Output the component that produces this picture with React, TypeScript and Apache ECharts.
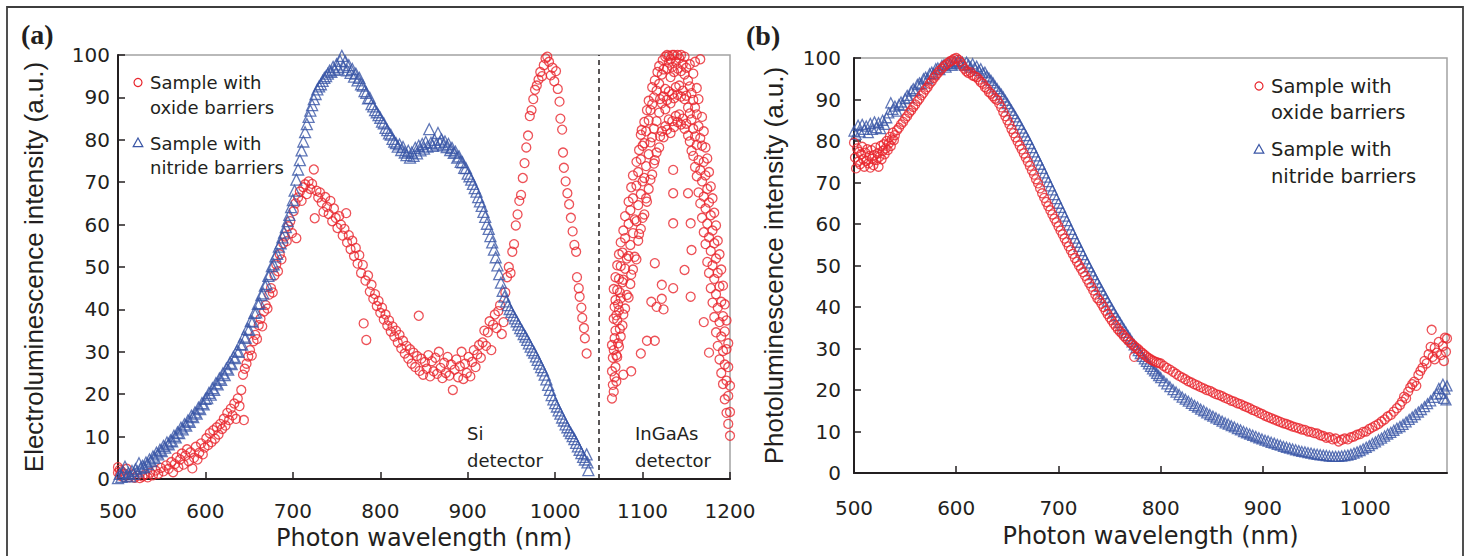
import React, { useEffect, useRef } from "react";
import * as echarts from "echarts";

// ---------- data ----------
const seriesNames = ["Sample with oxide barriers", "Sample with nitride barriers"];
const detectorSplit = 1050; // nm, Si / InGaAs detector boundary
const elRange = [500, 1200];
const plRange = [500, 1080];

// (a) electroluminescence, oxide barriers, Si detector
const elOxideSi: [number, number][] = [
  [500, 1.5], [500, 2.8], [502, 0.8], [502, 2.2], [504, 1.8], [506, 0.5], [508, 1.2], [510, 2.4], [513, 0.4], [516, 1.0],
  [519, 0.3], [522, 0.8], [525, 0.2], [528, 0.6], [531, 1.1], [534, 0.4], [537, 1.5], [540, 0.9], [543, 2.0], [546, 1.2],
  [549, 2.6], [552, 1.8], [555, 3.2], [558, 2.4], [561, 4.0], [563, 1.6], [565, 3.5], [567, 5.1], [569, 2.8], [571, 4.6],
  [573, 6.0], [575, 3.4], [577, 5.5], [579, 7.0], [581, 4.2], [583, 6.3], [585, 2.5], [587, 5.0], [589, 7.6], [591, 4.6],
  [593, 6.2], [595, 8.4], [597, 5.8], [599, 7.4], [601, 9.6], [603, 8.0], [605, 10.8], [607, 8.7], [609, 11.5], [611, 9.5],
  [613, 12.2], [615, 10.5], [617, 13.0], [619, 11.8], [621, 14.2], [623, 12.6], [625, 15.6], [627, 13.9], [629, 16.6], [631, 15.0],
  [633, 17.8], [635, 14.2], [637, 19.0], [639, 17.2], [641, 21.0], [643, 24.6], [644, 13.9], [645, 26.0], [647, 27.2], [649, 28.9],
  [651, 30.4], [653, 29.1], [655, 32.5], [657, 34.0], [659, 33.0], [661, 36.3], [663, 37.8], [665, 36.0], [667, 39.5], [669, 41.0],
  [671, 40.2], [673, 43.5], [675, 45.0], [677, 44.0], [679, 48.0], [681, 50.6], [683, 49.0], [685, 53.0], [687, 51.8], [689, 55.6],
  [691, 57.2], [693, 56.1], [695, 59.6], [697, 60.8], [699, 58.0], [701, 63.2], [703, 65.0], [704, 56.8], [706, 66.4], [708, 67.8],
  [710, 65.6], [712, 68.8], [714, 69.5], [716, 67.2], [718, 70.2], [720, 68.4], [722, 69.6], [724, 73.0], [725, 61.5], [727, 68.0],
  [729, 66.4], [731, 67.6], [733, 65.2], [735, 63.0], [737, 66.5], [739, 64.2], [741, 62.5], [743, 65.6], [745, 60.8], [747, 63.8],
  [749, 61.6], [751, 59.2], [753, 62.0], [755, 60.0], [757, 57.4], [759, 59.0], [761, 62.7], [762, 55.8], [764, 57.5], [766, 54.2],
  [768, 56.2], [770, 52.6], [772, 54.5], [774, 50.8], [776, 52.8], [778, 48.6], [780, 50.5], [781, 36.7], [783, 46.8], [784, 32.8],
  [786, 48.0], [788, 44.2], [790, 45.8], [792, 42.5], [794, 43.6], [796, 40.8], [798, 42.0], [800, 39.2], [802, 40.4], [804, 37.6],
  [806, 38.8], [808, 36.2], [810, 37.4], [812, 34.8], [814, 36.0], [816, 33.6], [818, 35.0], [820, 32.2], [822, 34.0], [824, 30.8],
  [826, 32.6], [828, 29.6], [830, 31.4], [832, 28.4], [834, 30.6], [836, 27.2], [838, 29.8], [840, 26.4], [842, 29.0], [844, 38.5],
  [845, 25.5], [847, 28.4], [849, 24.6], [851, 27.6], [853, 26.0], [855, 29.2], [857, 24.2], [859, 27.8], [861, 25.4], [863, 28.6],
  [865, 24.8], [867, 30.0], [869, 26.2], [871, 23.8], [873, 27.4], [875, 25.0], [877, 28.8], [879, 24.4], [881, 27.0], [883, 21.0],
  [885, 25.8], [887, 28.2], [889, 24.0], [891, 26.6], [893, 30.0], [895, 23.6], [897, 27.2], [899, 25.0], [901, 28.8], [903, 24.2],
  [905, 27.6], [907, 30.4], [909, 26.4], [911, 29.4], [913, 31.6], [915, 28.6], [917, 32.2], [919, 35.0], [921, 31.4], [923, 34.6],
  [925, 37.2], [927, 30.4], [929, 36.4], [931, 38.8], [933, 35.6], [935, 39.6], [937, 41.0], [939, 34.2], [941, 37.0], [943, 44.0],
  [945, 47.6], [947, 50.0], [949, 48.6], [951, 53.6], [953, 55.4], [955, 59.8], [957, 62.4], [959, 65.6], [961, 67.0], [963, 71.0],
  [965, 74.5], [967, 78.2], [969, 81.0], [971, 85.6], [973, 87.0], [975, 89.6], [977, 91.8], [979, 92.8], [981, 94.2], [983, 96.0],
  [985, 95.0], [987, 97.6], [989, 99.2], [991, 99.6], [993, 98.4], [995, 95.2], [997, 97.0], [999, 93.8], [1001, 96.2], [1003, 92.0],
  [1005, 89.0], [1006, 85.0], [1008, 82.4], [1009, 77.0], [1010, 73.4], [1012, 70.2], [1014, 67.4], [1016, 64.8], [1018, 61.6], [1020, 58.4],
  [1022, 55.2], [1024, 53.6], [1025, 47.6], [1027, 45.0], [1028, 43.0], [1030, 40.4], [1031, 38.0], [1033, 35.6], [1034, 33.2], [1036, 29.6],
];

// (a) electroluminescence, oxide barriers, InGaAs detector
const elOxideInGaAs: [number, number][] = [
  [1065, 19.0], [1065, 25.4], [1065, 31.6], [1066, 22.2], [1066, 28.6], [1067, 20.6], [1067, 30.4], [1067, 37.8], [1067, 44.8],
  [1068, 24.0], [1068, 33.2], [1068, 40.6], [1069, 26.4], [1069, 35.0], [1069, 42.2], [1069, 47.6], [1070, 23.0], [1070, 29.2], [1070, 38.6],
  [1071, 28.8], [1071, 37.4], [1071, 44.6], [1071, 50.4], [1072, 32.0], [1072, 41.2], [1073, 31.2], [1073, 39.8], [1073, 47.2], [1073, 53.0],
  [1074, 35.4], [1074, 44.0], [1075, 33.6], [1075, 42.6], [1075, 50.2], [1075, 55.8], [1077, 36.2], [1077, 46.4], [1077, 53.4],
  [1078, 24.6], [1078, 38.8], [1078, 47.0], [1078, 58.6], [1080, 40.2], [1080, 49.6], [1080, 56.8], [1080, 62.0], [1082, 43.4], [1082, 52.0],
  [1084, 42.8], [1084, 52.6], [1084, 60.2], [1084, 65.4], [1086, 46.0], [1086, 55.2], [1086, 63.4], [1087, 25.4], [1087, 48.2], [1087, 68.8],
  [1089, 49.4], [1089, 58.0], [1089, 66.2], [1089, 71.6], [1091, 52.4], [1091, 61.2], [1093, 51.8], [1093, 60.8], [1093, 69.2], [1093, 74.8],
  [1095, 56.2], [1095, 64.6], [1095, 72.4], [1096, 57.8], [1096, 77.6], [1098, 29.6], [1098, 59.0], [1098, 67.2], [1098, 75.4], [1098, 81.2],
  [1099, 82.3], [1100, 61.6], [1100, 70.2], [1100, 78.6], [1102, 62.4], [1102, 71.0], [1102, 79.2], [1102, 84.2], [1104, 66.2], [1104, 73.8],
  [1104, 82.0], [1105, 32.6], [1105, 65.4], [1105, 87.0], [1107, 68.4], [1107, 76.6], [1107, 84.6], [1107, 89.2], [1109, 70.6], [1109, 79.4],
  [1109, 87.0], [1110, 41.8], [1111, 71.8], [1111, 80.6], [1111, 88.4], [1111, 92.4], [1113, 74.4], [1113, 82.6], [1113, 90.0],
  [1114, 32.6], [1114, 50.9], [1114, 75.2], [1114, 94.0], [1116, 40.6], [1116, 77.0], [1116, 84.4], [1116, 91.6], [1117, 96.0],
  [1119, 78.2], [1119, 86.4], [1119, 93.2], [1119, 97.4], [1120, 80.8], [1120, 89.6], [1122, 45.8], [1122, 42.5], [1122, 82.0], [1122, 88.6],
  [1122, 95.4], [1123, 98.8], [1124, 40.0], [1124, 80.6], [1124, 90.2], [1124, 96.6], [1126, 83.2], [1126, 92.0], [1126, 99.6], [1126, 87.2],
  [1128, 82.4], [1128, 89.4], [1128, 96.8], [1128, 100], [1130, 84.8], [1130, 91.4], [1130, 98.2], [1130, 99.8], [1132, 81.6], [1132, 88.6],
  [1132, 94.8], [1132, 99.0], [1134, 84.4], [1134, 90.8], [1134, 97.2], [1134, 100], [1135, 72.9], [1135, 67.4], [1135, 60.3], [1135, 45.0],
  [1136, 83.0], [1136, 89.8], [1136, 96.0], [1136, 100], [1138, 85.6], [1138, 92.4], [1138, 98.4], [1140, 84.2], [1140, 90.6], [1140, 96.8],
  [1140, 100], [1142, 86.0], [1142, 92.8], [1142, 99.2], [1144, 83.6], [1144, 90.2], [1144, 96.2], [1144, 100], [1146, 85.0], [1146, 91.6],
  [1146, 97.8], [1148, 82.6], [1148, 49.3], [1148, 89.6], [1148, 95.4], [1148, 99.6], [1150, 83.8], [1150, 90.4], [1150, 97.0],
  [1152, 81.0], [1152, 67.4], [1152, 87.6], [1152, 94.0], [1154, 79.6], [1154, 86.2], [1154, 92.6], [1154, 97.8], [1155, 60.3], [1155, 43.0],
  [1156, 54.0], [1156, 77.4], [1156, 84.8], [1156, 91.0], [1158, 76.2], [1158, 82.6], [1158, 89.4], [1158, 95.6], [1160, 73.6], [1160, 80.8],
  [1160, 87.6], [1160, 98.4], [1162, 71.4], [1162, 78.8], [1162, 86.0], [1162, 92.2], [1164, 67.6], [1164, 75.2], [1164, 83.2], [1164, 89.6],
  [1166, 65.0], [1166, 72.8], [1166, 80.4], [1166, 99.0], [1168, 61.6], [1168, 70.2], [1168, 78.6], [1168, 85.4], [1170, 37.0], [1170, 58.2],
  [1170, 66.6], [1170, 74.8], [1170, 82.0], [1172, 55.4], [1172, 63.8], [1172, 71.6], [1172, 78.2], [1174, 51.2], [1174, 60.2], [1174, 68.4],
  [1174, 75.6], [1176, 29.8], [1176, 48.6], [1176, 57.0], [1176, 65.2], [1176, 72.4], [1178, 45.0], [1178, 53.8], [1178, 62.2], [1178, 69.0],
  [1180, 41.6], [1180, 50.4], [1180, 58.6], [1180, 66.2], [1182, 38.2], [1182, 47.2], [1182, 55.6], [1182, 62.8], [1184, 34.6], [1184, 43.6],
  [1184, 52.0], [1184, 59.8], [1186, 31.4], [1186, 40.4], [1186, 48.6], [1186, 56.2], [1188, 28.2], [1188, 37.0], [1188, 45.4], [1188, 53.0],
  [1190, 25.0], [1190, 33.6], [1190, 41.8], [1190, 49.4], [1192, 22.4], [1192, 30.2], [1192, 38.4], [1192, 45.6], [1194, 18.8], [1194, 27.0],
  [1194, 34.8], [1194, 41.2], [1196, 15.6], [1196, 23.2], [1196, 30.6], [1196, 37.4], [1198, 13.0], [1198, 19.6], [1198, 26.4], [1198, 32.0],
  [1200, 10.2], [1200, 15.8], [1200, 22.0],
];

// (a) electroluminescence, nitride barriers (Si detector)
const elNitride: [number, number][] = [
  [500, 0.2], [502, 1.2], [504, 0.5], [506, 1.6], [508, 2.9], [510, 0.8], [512, 1.4], [514, 0.6], [516, 1.9], [518, 1.2],
  [520, 2.3], [522, 1.8], [524, 3.7], [526, 2.6], [528, 3.1], [530, 2.8], [532, 3.9], [534, 3.5], [536, 4.6], [538, 4.2],
  [540, 5.3], [542, 5.0], [544, 6.2], [546, 5.8], [548, 6.9], [550, 6.6], [552, 7.8], [554, 7.4], [556, 8.6], [558, 8.2],
  [560, 9.1], [562, 8.9], [564, 10.2], [566, 9.8], [568, 11.0], [570, 10.8], [572, 12.1], [574, 11.7], [576, 12.9], [578, 12.6],
  [580, 13.8], [582, 13.5], [584, 14.9], [586, 14.6], [588, 15.7], [590, 15.4], [592, 16.8], [594, 16.5], [596, 17.9], [598, 17.6],
  [600, 18.9], [602, 19.1], [604, 20.3], [606, 19.9], [608, 21.4], [610, 21.0], [612, 22.6], [614, 22.3], [616, 23.7], [618, 23.4],
  [620, 24.9], [622, 24.5], [624, 26.1], [626, 25.8], [628, 27.4], [630, 27.1], [632, 28.8], [634, 28.5], [636, 30.2], [638, 30.0],
  [640, 31.8], [642, 31.7], [644, 33.6], [646, 33.3], [648, 35.4], [650, 35.2], [652, 37.3], [654, 37.1], [656, 39.2], [658, 39.3],
  [660, 41.3], [662, 41.5], [664, 43.4], [666, 43.8], [668, 45.6], [670, 46.0], [672, 47.9], [674, 48.3], [676, 50.2], [678, 50.6],
  [680, 52.5], [682, 53.1], [684, 54.8], [686, 55.6], [688, 57.0], [690, 58.1], [692, 59.4], [694, 60.8], [696, 62.3], [698, 64.1],
  [700, 65.8], [702, 68.0], [704, 70.6], [706, 73.0], [708, 75.2], [710, 77.5], [712, 79.6], [714, 81.8], [716, 83.7], [718, 85.4],
  [720, 86.9], [722, 88.2], [724, 89.6], [726, 90.8], [728, 91.9], [730, 92.6], [732, 93.1], [734, 93.9], [736, 94.6], [738, 95.0],
  [740, 95.6], [742, 96.3], [744, 96.0], [746, 97.2], [748, 96.5], [750, 97.8], [752, 96.8], [754, 98.6], [756, 99.8], [758, 97.2],
  [760, 98.5], [762, 96.4], [764, 97.6], [766, 95.8], [768, 96.7], [770, 94.9], [772, 95.6], [774, 94.0], [776, 94.6], [778, 93.1],
  [780, 92.8], [782, 91.5], [784, 91.1], [786, 89.8], [788, 89.9], [790, 88.4], [792, 87.9], [794, 87.0], [796, 86.5], [798, 85.8],
  [800, 85.2], [802, 84.3], [804, 83.9], [806, 82.8], [808, 82.3], [810, 81.5], [812, 81.2], [814, 80.2], [816, 79.6], [818, 79.2],
  [820, 78.4], [822, 78.9], [824, 77.6], [826, 78.3], [828, 77.0], [830, 76.4], [832, 77.4], [834, 75.8], [836, 77.0], [838, 76.2],
  [840, 78.1], [842, 76.8], [844, 78.6], [846, 77.5], [848, 79.0], [850, 77.9], [852, 79.5], [854, 78.4], [856, 82.5], [858, 79.3],
  [860, 78.6], [862, 80.0], [864, 78.9], [866, 81.6], [868, 79.4], [870, 80.1], [872, 78.7], [874, 79.6], [876, 78.3], [878, 79.0],
  [880, 77.6], [882, 78.1], [884, 76.9], [886, 77.2], [888, 75.8], [890, 76.1], [892, 74.8], [894, 74.7], [896, 73.4], [898, 73.3],
  [900, 72.0], [902, 71.4], [904, 70.6], [906, 69.6], [908, 68.6], [910, 67.8], [912, 66.5], [914, 65.5], [916, 64.4], [918, 63.0],
  [920, 61.8], [922, 60.2], [924, 59.0], [926, 57.3], [928, 55.8], [930, 54.1], [932, 52.3], [934, 50.4], [936, 48.3], [938, 46.3],
  [940, 44.4], [942, 43.0], [944, 41.9], [946, 41.0], [948, 40.1], [950, 39.4], [952, 38.6], [954, 37.9], [956, 37.2], [958, 36.4],
  [960, 35.6], [962, 35.0], [964, 34.2], [966, 33.6], [968, 32.8], [970, 32.0], [972, 31.2], [974, 30.4], [976, 29.8], [978, 28.9],
  [980, 28.1], [982, 27.2], [984, 26.4], [986, 25.6], [988, 24.6], [990, 23.5], [992, 22.2], [994, 21.0], [996, 19.8], [998, 18.8],
  [1000, 17.9], [1002, 17.1], [1004, 16.2], [1006, 15.4], [1008, 14.5], [1010, 13.8], [1012, 12.9], [1014, 12.2], [1016, 11.4], [1018, 10.8],
  [1020, 10.1], [1022, 9.4], [1024, 8.5], [1026, 7.7], [1028, 6.9], [1030, 6.1], [1032, 5.2], [1034, 4.6], [1036, 5.8], [1037, 3.9],
  [1038, 2.1],
];

// (b) photoluminescence, oxide barriers
const plOxide: [number, number][] = [
  [500, 79.6], [501, 76.0], [502, 73.4], [503, 78.2], [504, 75.0], [505, 77.4], [506, 74.4], [507, 76.8], [508, 78.6], [509, 75.6],
  [510, 73.8], [511, 77.2], [512, 75.2], [513, 78.0], [514, 74.6], [515, 76.4], [516, 73.6], [517, 77.8], [518, 75.8], [519, 74.2],
  [520, 76.6], [521, 78.4], [522, 75.4], [523, 77.0], [524, 73.8], [525, 76.2], [526, 78.8], [527, 75.6], [528, 77.6], [529, 79.2],
  [530, 76.8], [531, 78.2], [532, 80.0], [533, 77.8], [534, 79.4], [535, 81.0], [536, 78.8], [537, 80.4], [538, 82.0], [539, 80.2],
  [540, 81.4], [542, 82.6], [544, 83.2], [546, 84.0], [548, 84.6], [550, 85.4], [552, 86.0], [554, 86.8], [556, 87.4], [558, 88.2],
  [560, 88.8], [562, 89.6], [564, 90.2], [566, 91.0], [568, 91.6], [570, 92.4], [572, 93.0], [574, 93.8], [576, 94.4], [578, 95.2],
  [580, 95.8], [582, 96.4], [584, 97.0], [586, 97.4], [588, 98.0], [590, 98.4], [592, 98.8], [594, 99.2], [596, 99.4], [598, 99.8],
  [600, 100], [602, 99.6], [604, 99.0], [606, 98.2], [608, 97.4], [610, 96.8], [612, 96.4], [614, 96.6], [616, 95.8], [618, 95.6],
  [620, 95.4], [622, 94.8], [624, 94.2], [626, 93.8], [628, 93.0], [630, 92.6], [632, 91.8], [634, 91.4], [636, 90.8], [638, 90.2],
  [640, 89.9], [642, 89.0], [644, 88.1], [646, 87.0], [648, 86.0], [650, 85.0], [652, 84.0], [654, 82.9], [656, 81.9], [658, 80.9],
  [660, 79.9], [662, 78.9], [664, 78.0], [666, 77.0], [668, 76.0], [670, 75.0], [672, 74.0], [674, 72.9], [676, 71.9], [678, 70.8],
  [680, 69.8], [682, 68.6], [684, 67.4], [686, 66.3], [688, 65.3], [690, 64.3], [692, 63.3], [694, 62.3], [696, 61.3], [698, 60.4],
  [700, 59.4], [702, 58.4], [704, 57.5], [706, 56.5], [708, 55.6], [710, 54.6], [712, 53.7], [714, 52.8], [716, 51.8], [718, 50.9],
  [720, 50.0], [722, 49.2], [724, 48.4], [726, 47.5], [728, 46.6], [730, 45.8], [732, 44.9], [734, 44.0], [736, 43.0], [738, 42.1],
  [740, 41.6], [742, 40.8], [744, 40.0], [746, 39.1], [748, 38.3], [750, 37.5], [752, 36.8], [754, 36.0], [756, 35.4], [758, 34.7],
  [760, 34.1], [762, 33.6], [764, 33.0], [766, 32.5], [768, 32.0], [770, 31.5], [772, 31.1], [774, 28.0], [774, 30.6], [776, 30.2],
  [778, 29.8], [780, 29.3], [782, 28.9], [784, 28.5], [786, 28.1], [788, 27.7], [790, 27.4], [792, 27.1], [794, 26.9], [796, 26.7],
  [798, 26.5], [800, 26.4], [803, 25.8], [806, 25.3], [809, 24.9], [812, 24.4], [815, 23.9], [818, 23.4], [821, 23.0], [824, 22.6],
  [827, 22.1], [830, 21.8], [833, 21.4], [836, 21.1], [839, 20.7], [842, 20.4], [845, 20.0], [848, 19.8], [851, 19.4], [854, 19.0],
  [857, 18.8], [860, 18.5], [863, 18.1], [866, 17.8], [869, 17.4], [872, 17.2], [875, 16.8], [878, 16.6], [881, 16.2], [884, 15.9],
  [887, 15.6], [890, 15.2], [893, 14.9], [896, 14.5], [899, 14.2], [902, 13.8], [905, 13.5], [908, 13.2], [911, 12.9], [914, 12.6],
  [917, 12.3], [920, 12.0], [923, 11.8], [926, 11.5], [929, 11.2], [932, 11.0], [935, 10.8], [938, 10.5], [941, 10.4], [944, 10.0],
  [947, 9.9], [950, 9.6], [953, 9.5], [956, 9.1], [959, 8.9], [962, 8.5], [965, 8.6], [968, 8.1], [971, 8.3], [974, 7.6],
  [977, 8.0], [980, 8.3], [983, 8.1], [986, 8.6], [989, 8.8], [992, 9.2], [995, 9.4], [998, 9.9], [1001, 10.0], [1004, 10.6],
  [1007, 11.0], [1010, 11.4], [1013, 11.8], [1016, 12.4], [1019, 12.9], [1022, 13.6], [1025, 14.0], [1028, 14.8], [1031, 15.6], [1034, 16.4],
  [1036, 17.2], [1038, 18.4], [1040, 18.0], [1042, 19.6], [1044, 20.6], [1046, 21.4], [1048, 22.0], [1050, 21.0], [1052, 23.6], [1054, 24.6],
  [1056, 25.4], [1058, 27.0], [1060, 26.4], [1062, 28.6], [1064, 30.4], [1065, 34.5], [1066, 28.0], [1068, 27.4], [1068, 30.2], [1070, 29.0],
  [1072, 31.6], [1074, 28.4], [1076, 30.6], [1077, 27.0], [1078, 32.6], [1079, 29.2], [1080, 32.4], [1081, 24.8],
];

// (b) photoluminescence, nitride barriers
const plNitride: [number, number][] = [
  [500, 82.4], [502, 81.6], [504, 83.8], [506, 82.2], [508, 84.0], [510, 82.8], [512, 83.6], [514, 82.0], [516, 84.2], [518, 82.8],
  [520, 84.6], [522, 83.2], [524, 84.4], [526, 83.0], [528, 85.0], [530, 84.0], [532, 85.6], [534, 86.8], [536, 89.2], [538, 87.6],
  [540, 88.4], [542, 87.2], [544, 88.8], [546, 89.4], [548, 88.6], [550, 90.2], [552, 91.0], [554, 90.4], [556, 92.0], [558, 92.6],
  [560, 92.2], [562, 93.6], [564, 94.0], [566, 93.8], [568, 95.0], [570, 95.4], [572, 95.0], [574, 96.2], [576, 96.6], [578, 96.2],
  [580, 97.4], [582, 97.6], [584, 97.2], [586, 98.2], [588, 98.4], [590, 97.8], [592, 98.8], [594, 98.6], [596, 98.2], [598, 99.2],
  [600, 98.8], [602, 99.4], [604, 98.6], [606, 99.0], [608, 98.2], [610, 99.0], [612, 98.4], [614, 97.8], [616, 98.6], [618, 97.6],
  [620, 98.0], [622, 97.0], [624, 97.4], [626, 96.4], [628, 96.6], [630, 95.6], [632, 95.2], [634, 94.6], [636, 94.0], [638, 93.2],
  [640, 92.6], [642, 91.9], [644, 91.3], [646, 90.6], [648, 89.8], [650, 89.0], [652, 88.2], [654, 87.4], [656, 86.6], [658, 85.8],
  [660, 84.9], [662, 84.0], [664, 83.1], [666, 82.2], [668, 81.3], [670, 80.4], [672, 79.4], [674, 78.4], [676, 77.4], [678, 76.4],
  [680, 75.4], [682, 74.4], [684, 73.4], [686, 72.3], [688, 71.3], [690, 70.2], [692, 69.2], [694, 68.2], [696, 67.1], [698, 66.1],
  [700, 65.0], [702, 64.0], [704, 62.9], [706, 61.9], [708, 60.8], [710, 59.8], [712, 58.7], [714, 57.7], [716, 56.6], [718, 55.6],
  [720, 54.6], [722, 53.6], [724, 52.6], [726, 51.6], [728, 50.6], [730, 49.7], [732, 48.7], [734, 47.8], [736, 46.8], [738, 45.9],
  [740, 45.0], [742, 44.1], [744, 43.2], [746, 42.3], [748, 41.4], [750, 40.5], [752, 39.6], [754, 38.8], [756, 37.9], [758, 37.1],
  [760, 36.3], [762, 35.5], [764, 34.7], [766, 33.9], [768, 33.1], [770, 32.4], [772, 31.6], [774, 30.9], [776, 30.2], [778, 29.5],
  [780, 28.8], [782, 28.1], [784, 27.5], [786, 26.9], [788, 26.3], [790, 25.7], [792, 25.1], [794, 24.6], [796, 24.0], [798, 23.5],
  [800, 23.0], [803, 22.2], [806, 21.5], [809, 20.8], [812, 20.1], [815, 19.5], [818, 18.9], [821, 18.3], [824, 17.8], [827, 17.3],
  [830, 16.8], [833, 16.3], [836, 15.9], [839, 15.4], [842, 15.0], [845, 14.5], [848, 14.1], [851, 13.7], [854, 13.3], [857, 12.9],
  [860, 12.5], [863, 12.1], [866, 11.8], [869, 11.4], [872, 11.1], [875, 10.7], [878, 10.4], [881, 10.0], [884, 9.7], [887, 9.4],
  [890, 9.1], [893, 8.8], [896, 8.5], [899, 8.2], [902, 7.9], [905, 7.7], [908, 7.4], [911, 7.2], [914, 6.9], [917, 6.7],
  [920, 6.4], [923, 6.2], [926, 6.0], [929, 5.8], [932, 5.6], [935, 5.4], [938, 5.2], [941, 5.1], [944, 4.9], [947, 4.8],
  [950, 4.6], [953, 4.5], [956, 4.4], [959, 4.3], [962, 4.2], [965, 4.1], [968, 4.0], [971, 4.0], [974, 4.0], [977, 4.1],
  [980, 4.2], [983, 4.3], [986, 4.5], [989, 4.8], [992, 5.1], [995, 5.4], [998, 5.8], [1001, 6.2], [1004, 6.6], [1007, 7.1],
  [1010, 7.5], [1013, 8.0], [1016, 8.4], [1019, 8.9], [1022, 9.4], [1025, 9.8], [1028, 10.3], [1031, 10.8], [1034, 11.2], [1037, 11.7],
  [1040, 12.3], [1043, 12.9], [1046, 13.5], [1049, 14.1], [1052, 14.7], [1055, 15.3], [1058, 16.0], [1061, 16.7], [1064, 17.4], [1067, 18.2],
  [1070, 19.0], [1072, 20.4], [1074, 19.2], [1076, 21.4], [1077, 18.0], [1078, 20.2], [1079, 17.6], [1080, 21.0],
];

// ---------- styling ----------
const RED = "#e8262d";
const BLUE = "#3a56a6";
const INK = "#231f20";
const SANS = "'DejaVu Sans', sans-serif";
const ARIAL = "'Liberation Sans', Arial, sans-serif";
const plainNumber = (v: number) => String(v);

function xAxisFor(grid: number, range: number[], labelMargin: number, nameGap: number) {
  return {
    type: "value",
    gridIndex: grid,
    min: range[0],
    max: range[1],
    interval: 100,
    name: "Photon wavelength (nm)",
    nameLocation: "middle",
    nameGap,
    nameTextStyle: { fontSize: 24, fontFamily: SANS, color: INK },
    axisLine: { show: true, onZero: false, lineStyle: { color: INK, width: 2 } },
    axisTick: { show: true, inside: true, length: 7, lineStyle: { color: INK, width: 1.5 } },
    axisLabel: {
      fontSize: 20,
      fontFamily: SANS,
      color: INK,
      margin: labelMargin,
      formatter: plainNumber,
      showMaxLabel: range[1] % 100 === 0,
    },
    splitLine: { show: false },
  };
}

function yAxisFor(grid: number, name: string, labelMargin: number, nameGap: number) {
  return {
    type: "value",
    gridIndex: grid,
    min: 0,
    max: 100,
    interval: 10,
    name,
    nameLocation: "middle",
    nameGap,
    nameTextStyle: { fontSize: 26, fontFamily: ARIAL, color: INK },
    axisLine: { show: true, onZero: false, lineStyle: { color: INK, width: 2 } },
    axisTick: { show: true, inside: true, length: 7, lineStyle: { color: INK, width: 1.5 } },
    axisLabel: { fontSize: 20, fontFamily: SANS, color: INK, margin: labelMargin, formatter: plainNumber },
    splitLine: { show: false },
  };
}

function circleSeries(name: string, data: [number, number][], grid: number, size: number, extra: any = {}) {
  return {
    type: "scatter",
    name,
    xAxisIndex: grid,
    yAxisIndex: grid,
    data,
    symbol: "circle",
    symbolSize: size,
    itemStyle: { color: "rgba(0,0,0,0)", borderColor: RED, borderWidth: 1.3 },
    emphasis: { disabled: true },
    silent: true,
    ...extra,
  };
}

function triangleSeries(name: string, data: [number, number][], grid: number, size: number) {
  return {
    type: "scatter",
    name,
    xAxisIndex: grid,
    yAxisIndex: grid,
    data,
    symbol: "triangle",
    symbolSize: size,
    itemStyle: { color: "rgba(0,0,0,0)", borderColor: BLUE, borderWidth: 1.3 },
    emphasis: { disabled: true },
    silent: true,
  };
}

function legendBlock(x: number, y: number, lineGap: number, entryGap: number, fontSize: number) {
  const textX = x + 12;
  const t = (text: string, ty: number) => ({
    type: "text",
    x: textX,
    y: ty,
    silent: true,
    style: { text, fontSize, fontFamily: SANS, fill: INK, verticalAlign: "middle", align: "left" },
  });
  const ty = y + entryGap;
  return [
    { type: "circle", silent: true, shape: { cx: x, cy: y, r: 4 }, style: { fill: "none", stroke: RED, lineWidth: 1.2 } },
    t("Sample with", y),
    t("oxide barriers", y + lineGap),
    {
      type: "polygon",
      silent: true,
      shape: { points: [[x, ty - 5], [x + 4.8, ty + 3.6], [x - 4.8, ty + 3.6]] },
      style: { fill: "none", stroke: BLUE, lineWidth: 1.2 },
    },
    t("Sample with", ty),
    t("nitride barriers", ty + lineGap),
  ];
}

function note(text: string, x: number, y: number) {
  return {
    type: "text",
    x,
    y,
    silent: true,
    style: { text, fontSize: 18, fontFamily: SANS, fill: INK, verticalAlign: "middle", align: "left" },
  };
}

export default function App() {
  const ref = useRef<HTMLDivElement>(null);

  useEffect(() => {
    document.body.style.margin = "0";
    const chart = echarts.init(ref.current!, null, { renderer: "svg" });
    const option = {
      animation: false,
      backgroundColor: "#ffffff",
      textStyle: { fontFamily: SANS, color: INK },
      grid: [
        { left: 118, top: 55, width: 612, height: 424, show: true, borderColor: "#a3a3a3", borderWidth: 1.5, containLabel: false },
        { left: 854, top: 58, width: 593, height: 415, show: true, borderColor: "#a3a3a3", borderWidth: 1.5, containLabel: false },
      ],
      xAxis: [xAxisFor(0, elRange, 22, 45), xAxisFor(1, plRange, 25, 51)],
      yAxis: [
        yAxisFor(0, "Electroluminescence intensity (a.u.)", 8, 71),
        yAxisFor(1, "Photoluminescence intensity (a.u.)", 13, 67),
      ],
      series: [
        circleSeries(seriesNames[0], [...elOxideSi, ...elOxideInGaAs], 0, 9, {
          markLine: {
            silent: true,
            symbol: ["none", "none"],
            label: { show: false },
            lineStyle: { color: INK, type: [5, 4], width: 1.5 },
            data: [{ xAxis: detectorSplit }],
          },
        }),
        triangleSeries(seriesNames[1], elNitride, 0, 11),
        triangleSeries(seriesNames[1], plNitride, 1, 10),
        circleSeries(seriesNames[0], plOxide, 1, 9),
      ],
      graphic: [
        {
          type: "rect",
          silent: true,
          z: -10,
          shape: { x: 7, y: 7, width: 1456, height: 620 },
          style: { fill: "none", stroke: "#3d3d3d", lineWidth: 1.8 },
        },
        {
          type: "text", x: 21, y: 34, silent: true,
          style: { text: "(a)", fontSize: 28, fontWeight: "bold", fontFamily: "'Liberation Serif', serif", fill: INK, verticalAlign: "middle" },
        },
        {
          type: "text", x: 746, y: 35, silent: true,
          style: { text: "(b)", fontSize: 28, fontWeight: "bold", fontFamily: "'Liberation Serif', serif", fill: INK, verticalAlign: "middle" },
        },
        ...legendBlock(138, 82.5, 24.5, 60.5, 18),
        ...legendBlock(1259, 86, 26.5, 63.5, 19.5),
        note("Si", 467, 433.5),
        note("detector", 467, 460.5),
        note("InGaAs", 635, 433.5),
        note("detector", 635, 460.5),
      ],
    };
    chart.setOption(option as any);
    return () => chart.dispose();
  }, []);

  return <div ref={ref} style={{ width: 1471, height: 556 }} />;
}
